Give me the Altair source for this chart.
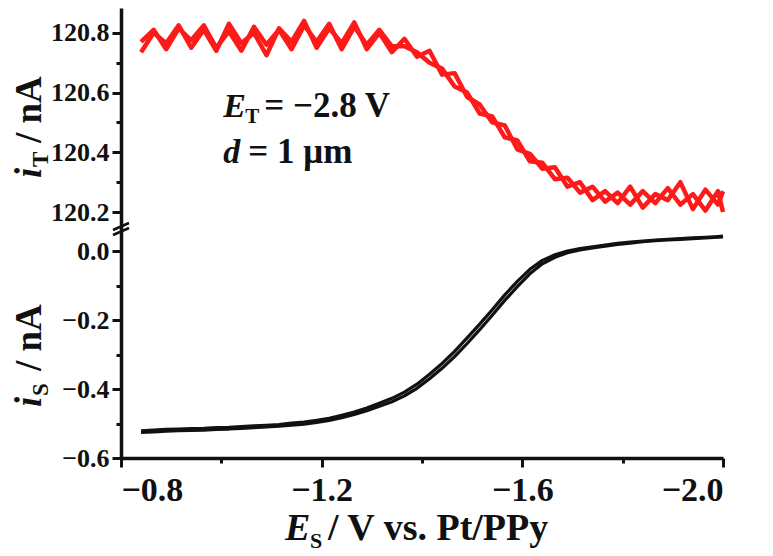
import altair as alt
import pandas as pd

# ---------------- data ----------------
E = [-0.840, -0.865, -0.890, -0.915, -0.940, -0.965, -0.990, -1.015, -1.040, -1.065,
     -1.090, -1.115, -1.140, -1.165, -1.190, -1.215, -1.240, -1.265, -1.290, -1.315,
     -1.340, -1.365, -1.390, -1.415, -1.440, -1.465, -1.490, -1.515, -1.540, -1.565,
     -1.590, -1.615, -1.640, -1.665, -1.690, -1.715, -1.740, -1.765, -1.790, -1.815,
     -1.840, -1.865, -1.890, -1.915, -1.940, -1.965, -1.990, -2.000]

iT_fwd = [120.735, 120.800, 120.765, 120.825, 120.750, 120.810, 120.740, 120.830, 120.765, 120.800,
          120.725, 120.815, 120.770, 120.840, 120.750, 120.815, 120.765, 120.835, 120.745, 120.800,
          120.735, 120.780, 120.720, 120.740, 120.660, 120.665, 120.585, 120.560, 120.500, 120.490,
          120.410, 120.395, 120.345, 120.350, 120.285, 120.300, 120.240, 120.270, 120.230, 120.285,
          120.215, 120.260, 120.240, 120.300, 120.210, 120.275, 120.225, 120.270]

iT_rev = [120.770, 120.810, 120.745, 120.815, 120.775, 120.825, 120.750, 120.805, 120.740, 120.820,
          120.760, 120.810, 120.745, 120.825, 120.770, 120.830, 120.745, 120.820, 120.760, 120.810,
          120.755, 120.755, 120.735, 120.700, 120.680, 120.620, 120.600, 120.530, 120.520, 120.450,
          120.440, 120.370, 120.365, 120.310, 120.315, 120.265, 120.285, 120.235, 120.265, 120.225,
          120.270, 120.230, 120.280, 120.225, 120.260, 120.205, 120.270, 120.200]

iS_fwd = [-0.526, -0.524, -0.522, -0.521, -0.520, -0.519, -0.517, -0.516, -0.514, -0.512,
          -0.510, -0.508, -0.505, -0.502, -0.497, -0.491, -0.483, -0.474, -0.463, -0.450,
          -0.437, -0.420, -0.398, -0.370, -0.340, -0.306, -0.268, -0.228, -0.186, -0.143,
          -0.103, -0.066, -0.037, -0.018, -0.005, 0.003, 0.009, 0.014, 0.019, 0.023,
          0.027, 0.030, 0.032, 0.034, 0.036, 0.038, 0.040, 0.041]

iS_rev = [-0.521, -0.519, -0.517, -0.516, -0.515, -0.514, -0.512, -0.511, -0.509, -0.507,
          -0.505, -0.503, -0.499, -0.496, -0.491, -0.485, -0.476, -0.467, -0.455, -0.441,
          -0.427, -0.409, -0.386, -0.357, -0.326, -0.291, -0.252, -0.212, -0.170, -0.127,
          -0.088, -0.053, -0.027, -0.011, 0.000, 0.007, 0.012, 0.017, 0.022, 0.026,
          0.029, 0.032, 0.034, 0.036, 0.038, 0.040, 0.042, 0.043]

X_DOMAIN = [-2.0, -0.8]
T_DOMAIN = [120.14, 120.883]
S_DOMAIN = [-0.6, 0.061]
X_TICKS = [-0.8, -1.0, -1.2, -1.4, -1.6, -1.8, -2.0]
T_TICKS = [120.2, 120.3, 120.4, 120.5, 120.6, 120.7, 120.8]
S_TICKS = [-0.6, -0.5, -0.4, -0.3, -0.2, -0.1, 0.0]

# annotation texts (pieces) and anchors (data coordinates)
ANN_E = -1.004
ANN_ET_I = 120.518
ANN_D_I = 120.364
ANN_ET = [("E", 0, 0, 34, True), ("T", 22, 6, 21, False), ("= \u22122.8 V", 41, 0, 35, False)]
ANN_D = [("d", 0, 0, 34, True), ("= 1 \u03bcm", 25, 0, 35, False)]
X_TITLE = [("E", 164, 310, 38, True), ("S", 189, 318, 22, False),
           ("/ V vs. Pt/PPy", 207, 310, 38, False)]

FONT = "Liberation Serif"
RED = "#ff1a1a"
BLACK = "#111111"

W, H_TOP, H_BOT = 602, 222, 228

df_top = pd.DataFrame({"E": E * 2, "i": iT_fwd + iT_rev,
                       "trace": ["fwd"] * len(E) + ["rev"] * len(E)})
df_bot = pd.DataFrame({"E": E * 2, "i": iS_fwd + iS_rev,
                       "trace": ["fwd"] * len(E) + ["rev"] * len(E)})

xscale = alt.Scale(domain=X_DOMAIN, reverse=True, nice=False, zero=False)
tscale = alt.Scale(domain=T_DOMAIN, nice=False, zero=False)
sscale = alt.Scale(domain=S_DOMAIN, nice=False, zero=False)

y_label_expr = "round(datum.value*10)%2===0 ? format(datum.value,'.1f') : ''"
y_tick_size = {"condition": {"test": "round(datum.value*10)%2===0", "value": 9}, "value": 5}
x_label_expr = "round(datum.value*10)%4===0 ? format(datum.value,'.1f') : ''"
x_tick_size = {"condition": {"test": "round(datum.value*10)%4===0", "value": 9}, "value": 5}


def yaxis(values):
    return alt.Axis(values=values, labelExpr=y_label_expr, tickSize=y_tick_size,
                    title=None, labelFontSize=26, labelPadding=3, grid=False)


def ptext(s, x, y, size, italic=False, angle=0, align="left"):
    kw = dict(text=s, font=FONT, fontSize=size, fontWeight="bold", color=BLACK,
              align=align, baseline="alphabetic")
    if italic:
        kw["fontStyle"] = "italic"
    if angle:
        kw["angle"] = angle
    return alt.Chart(pd.DataFrame({"t": [s]})).mark_text(**kw).encode(
        x=alt.value(x), y=alt.value(y))


def dtext(s, e0, i0, size, yscale, yvalues, italic=False, dx=0, dy=0):
    kw = dict(text=s, font=FONT, fontSize=size, fontWeight="bold", color=BLACK,
              align="left", baseline="alphabetic", dx=dx, dy=dy)
    if italic:
        kw["fontStyle"] = "italic"
    return alt.Chart(pd.DataFrame({"E": [e0], "i": [i0]})).mark_text(**kw).encode(
        x=alt.X("E:Q", scale=xscale, axis=None),
        y=alt.Y("i:Q", scale=yscale, axis=yaxis(yvalues)))


# ---------------- top panel (tip current) ----------------
red = alt.Chart(df_top).mark_line(color=RED, strokeWidth=4.5, strokeJoin="round").encode(
    x=alt.X("E:Q", scale=xscale, axis=None),
    y=alt.Y("i:Q", scale=tscale, axis=yaxis(T_TICKS)),
    detail="trace:N")

top_layers = [red]
for s, dx, dy, size, it in ANN_ET:
    top_layers.append(dtext(s, ANN_E, ANN_ET_I, size, tscale, T_TICKS, italic=it, dx=dx, dy=dy))
for s, dx, dy, size, it in ANN_D:
    top_layers.append(dtext(s, ANN_E, ANN_D_I, size, tscale, T_TICKS, italic=it, dx=dx, dy=dy))
top_layers += [
    ptext("i", -80, 170, 37, italic=True, angle=270),
    ptext("T", -73, 159, 23, angle=270),
    ptext("/ nA", -80, 135, 37, angle=270),
]
top = alt.layer(*top_layers).properties(width=W, height=H_TOP)

# ---------------- bottom panel (substrate current) ----------------
black = alt.Chart(df_bot).mark_line(color=BLACK, strokeWidth=3.2, strokeJoin="round").encode(
    x=alt.X("E:Q", scale=xscale,
            axis=alt.Axis(values=X_TICKS, labelExpr=x_label_expr, tickSize=x_tick_size,
                          title=None, labelFontSize=34, labelPadding=6, grid=False)),
    y=alt.Y("i:Q", scale=sscale, axis=yaxis(S_TICKS)),
    detail="trace:N")

brk = pd.DataFrame({"k": [0]})
break1 = alt.Chart(brk).mark_rule(color=BLACK, strokeWidth=2.5).encode(
    x=alt.value(-8), x2=alt.value(8), y=alt.value(0), y2=alt.value(-7))
break2 = alt.Chart(brk).mark_rule(color=BLACK, strokeWidth=2.5).encode(
    x=alt.value(-8), x2=alt.value(8), y=alt.value(5), y2=alt.value(-2))

bottom_layers = [black, break1, break2,
                 ptext("i", -80, 177, 37, italic=True, angle=270),
                 ptext("S", -73, 166, 23, angle=270),
                 ptext("/ nA", -80, 141, 37, angle=270)]
for s, x, y, size, it in X_TITLE:
    bottom_layers.append(ptext(s, x, y, size, italic=it))
bottom = alt.layer(*bottom_layers).properties(width=W, height=H_BOT)

chart = alt.vconcat(top, bottom, spacing=0, bounds="flush").properties(
    padding={"left": 3, "top": 0, "right": 5, "bottom": 0}
).configure_view(strokeWidth=0).configure_axis(
    domainColor=BLACK, domainWidth=3.5, tickColor=BLACK, tickWidth=3,
    labelColor=BLACK, labelFont=FONT, labelFontWeight="bold")

chart.save("out.html", embed_options={"renderer": "svg", "actions": False})
